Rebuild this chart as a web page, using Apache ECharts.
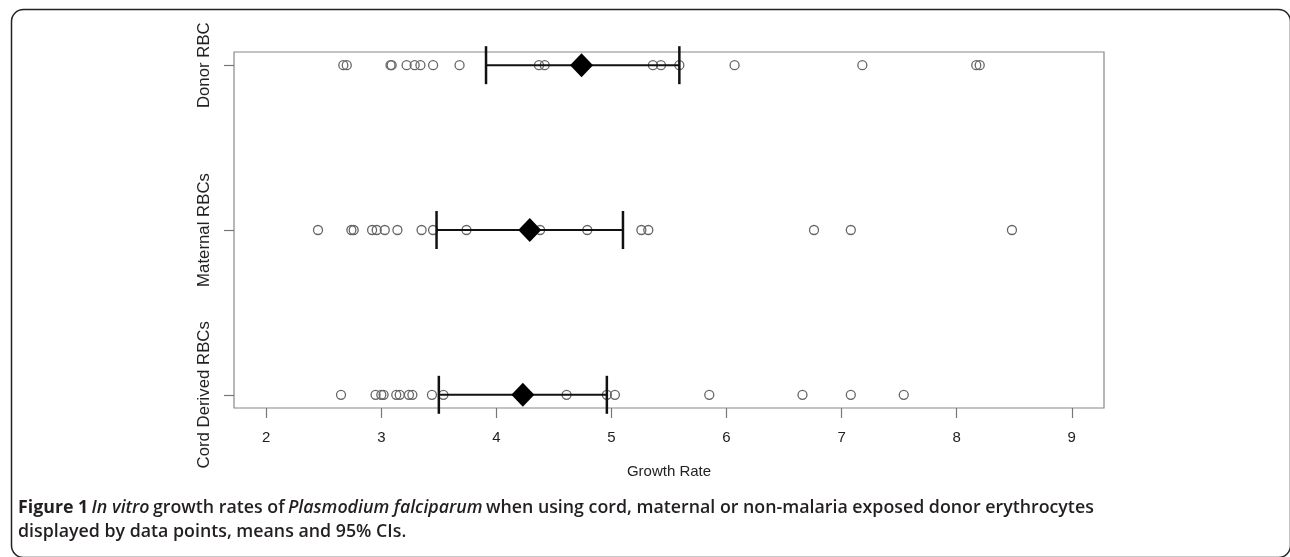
<!DOCTYPE html>
<html>
<head>
<meta charset="UTF-8" />
<title>Growth rates</title>
<script src="https://cdn.jsdelivr.net/npm/echarts@6/dist/echarts.min.js"></script>
<style>
  html, body { margin: 0; padding: 0; background: #fff; }
  #chart { width: 1290px; height: 557px; }
</style>
</head>
<body>
<div id="chart"></div>
<script>
// groups, bottom to top (row 1, 2, 3)
var groups = ['Cord Derived RBCs', 'Maternal RBCs', 'Donor RBC'];
var xTicks = [2, 3, 4, 5, 6, 7, 8, 9];

// individual growth rates
var cordVals = [2.65, 2.95, 3.00, 3.02, 3.13, 3.16, 3.24, 3.27, 3.44, 3.54, 4.61, 4.96, 5.03, 5.85, 6.66, 7.08, 7.54];
var maternalVals = [2.45, 2.74, 2.76, 2.92, 2.96, 3.03, 3.14, 3.35, 3.45, 3.74, 4.38, 4.79, 5.26, 5.32, 6.76, 7.08, 8.48];
var donorVals = [2.67, 2.70, 3.08, 3.09, 3.22, 3.29, 3.34, 3.45, 3.68, 4.37, 4.42, 5.36, 5.43, 5.59, 6.07, 7.18, 8.17, 8.20];

// means and 95% CI, same order as groups
var means = [4.23, 4.29, 4.74];
var ciLow = [3.50, 3.48, 3.91];
var ciHigh = [4.96, 5.10, 5.59];

var allVals = [cordVals, maternalVals, donorVals];
var pts = [];
allVals.forEach(function (arr, i) {
    arr.forEach(function (v) { pts.push([v, i + 1]); });
});
var meanPts = means.map(function (m, i) { return [m, i + 1]; });
var ciData = ciLow.map(function (lo, i) { return [lo, ciHigh[i], i + 1]; });

var myChart = echarts.init(document.getElementById('chart'));
var axisFont = 'Liberation Sans';

myChart.setOption({
    animation: false,
    grid: { left: 234, right: 186, top: 52, bottom: 149, show: true, borderColor: '#888', borderWidth: 1.2 },
    xAxis: {
        type: 'value', min: 1.72, max: 9.28,
        name: 'Growth Rate', nameLocation: 'middle', nameGap: 56,
        nameTextStyle: { fontFamily: axisFont, fontSize: 15, color: '#222' },
        axisLine: { show: false },
        splitLine: { show: false },
        axisTick: { show: true, length: 10, customValues: xTicks, lineStyle: { color: '#777', width: 1.2 } },
        axisLabel: { customValues: xTicks, margin: 22, fontFamily: axisFont, fontSize: 15, color: '#222' }
    },
    yAxis: {
        type: 'value', min: 0.92, max: 3.08,
        axisLine: { show: false },
        splitLine: { show: false },
        axisTick: { show: true, length: 10, customValues: [1, 2, 3], lineStyle: { color: '#777', width: 1.2 } },
        axisLabel: {
            customValues: [1, 2, 3], rotate: 90, margin: 21,
            fontFamily: axisFont, fontSize: 16.8, color: '#222',
            formatter: function (v) { return groups[Math.round(v) - 1]; }
        }
    },
    series: [
        {
            type: 'scatter', data: pts, symbol: 'circle', symbolSize: 9,
            itemStyle: { color: 'rgba(0,0,0,0)', borderColor: '#666', borderWidth: 1.3, opacity: 1 },
            z: 2
        },
        {
            type: 'custom', data: ciData, encode: { x: [0, 1], y: 2 }, z: 3,
            renderItem: function (params, api) {
                var lo = api.coord([api.value(0), api.value(2)]);
                var hi = api.coord([api.value(1), api.value(2)]);
                var cap = 19;
                return {
                    type: 'group',
                    children: [
                        { type: 'line', shape: { x1: lo[0], y1: lo[1], x2: hi[0], y2: hi[1] }, style: { stroke: '#111', lineWidth: 2 } },
                        { type: 'line', shape: { x1: lo[0], y1: lo[1] - cap, x2: lo[0], y2: lo[1] + cap }, style: { stroke: '#111', lineWidth: 2.5 } },
                        { type: 'line', shape: { x1: hi[0], y1: hi[1] - cap, x2: hi[0], y2: hi[1] + cap }, style: { stroke: '#111', lineWidth: 2.5 } }
                    ]
                };
            }
        },
        {
            type: 'scatter', data: meanPts, symbol: 'diamond', symbolSize: [23, 24],
            itemStyle: { color: '#000', opacity: 1 }, z: 4
        }
    ],
    graphic: [
        {
            type: 'rect', left: 9, top: 7, z: 0,
            shape: { width: 1279, height: 548, r: 12 },
            style: { fill: 'none', stroke: '#222', lineWidth: 1.5 }
        },
        {
            type: 'text', left: 18, top: 499,
            style: {
                text: '{b|Figure 1} {i|In vitro} {s|growth rates of} {i|Plasmodium falciparum} {s|when using cord, maternal or non-malaria exposed donor erythrocytes}\n{s|displayed by data points, means and 95% CIs.}',
                rich: {
                    b: { fontFamily: 'Open Sans', fontWeight: 'bold', fontSize: 17.8, fill: '#231f20', lineHeight: 24 },
                    i: { fontFamily: 'Open Sans', fontStyle: 'italic', fontWeight: 600, fontSize: 17.8, fill: '#231f20', lineHeight: 24 },
                    s: { fontFamily: 'Open Sans', fontWeight: 600, fontSize: 17.8, fill: '#231f20', lineHeight: 24 }
                }
            }
        }
    ]
});
</script>
</body>
</html>
